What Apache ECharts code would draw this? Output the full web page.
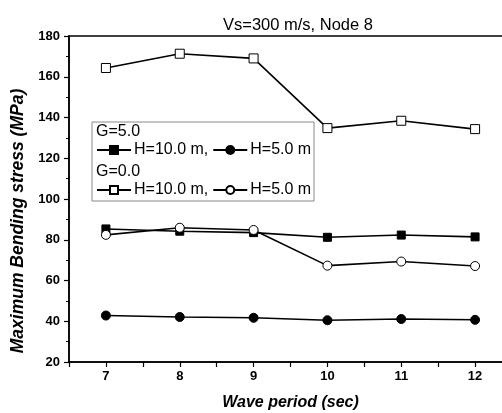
<!DOCTYPE html>
<html>
<head>
<meta charset="utf-8">
<script src="https://cdn.jsdelivr.net/npm/echarts@6/dist/echarts.min.js"></script>
<style>
  html, body { margin: 0; padding: 0; background: #fff; }
  #main { width: 502px; height: 413px; }
</style>
</head>
<body>
<div id="main"></div>
<script>
// wave period (sec)
var periods = [7, 8, 9, 10, 11, 12];
// maximum bending stress (MPa)
var g5H10 = [85.3, 84.2, 83.5, 81.2, 82.3, 81.4];
var g5H5 = [42.8, 42.1, 41.7, 40.5, 41.1, 40.7];
var g0H10 = [164.3, 171.3, 169.0, 134.8, 138.4, 134.3];
var g0H5 = [82.4, 85.9, 84.8, 67.3, 69.3, 67.1];
var yTicks = [20, 40, 60, 80, 100, 120, 140, 160, 180];

var labels = {
  g5H10: 'H=10.0 m,',
  g5H5: 'H=5.0 m',
  g0H10: 'H=10.0 m,',
  g0H5: 'H=5.0 m'
};

function pairs(ys) {
  return periods.map(function (x, i) { return [x, ys[i]]; });
}

var chartDom = document.getElementById('main');
var myChart = echarts.init(chartDom, null, { renderer: 'canvas' });
var font = 'Liberation Sans, Arial, sans-serif';

function lineSeries(name, ys, symbol, size, filled) {
  return {
    name: name,
    type: 'line',
    data: pairs(ys),
    symbol: symbol,
    symbolSize: size,
    lineStyle: { color: '#000', width: 1.6 },
    itemStyle: {
      color: filled ? '#000' : '#fff',
      borderColor: '#000',
      borderWidth: 1
    },
    emphasis: { disabled: true },
    animation: false
  };
}

var legendCommon = {
  orient: 'horizontal',
  itemWidth: 34,
  itemHeight: 10,
  itemGap: 4,
  padding: 0,
  selectedMode: false,
  textStyle: { fontFamily: font, fontSize: 16, color: '#000', padding: [0, 0, 0, -2] },
  formatter: function (n) { return labels[n]; }
};

var option = {
  backgroundColor: '#fff',
  textStyle: { fontFamily: font },
  title: {
    text: 'Vs=300 m/s, Node 8',
    left: 293,
    top: 12,
    textAlign: 'center',
    textStyle: { fontFamily: font, fontSize: 16.5, fontWeight: 'normal', color: '#000' }
  },
  grid: {
    left: 69,
    top: 36,
    width: 443,
    bottom: 51,
    outerBoundsMode: 'none',
    containLabel: false,
    show: true,
    borderColor: '#000',
    borderWidth: 1.5,
    backgroundColor: 'transparent'
  },
  legend: [
    Object.assign({ data: ['g5H10', 'g5H5'], left: 96, top: 142 }, legendCommon),
    Object.assign({ data: ['g0H10', 'g0H5'], left: 96, top: 182 }, legendCommon)
  ],
  graphic: [
    {
      type: 'rect',
      shape: { x: 92, y: 122, width: 222, height: 79 },
      style: { fill: '#fff', stroke: '#888', lineWidth: 1 },
      z: 1
    },
    {
      type: 'text',
      left: 96, top: 124,
      style: { text: 'G=5.0', fontFamily: font, fontSize: 16, fill: '#000' },
      z: 2
    },
    {
      type: 'text',
      left: 96, top: 164,
      style: { text: 'G=0.0', fontFamily: font, fontSize: 16, fill: '#000' },
      z: 2
    }
  ],
  xAxis: {
    type: 'value',
    min: 6.5,
    max: 12.5,
    interval: 0.5,
    name: 'Wave period (sec)',
    nameLocation: 'middle',
    nameGap: 33,
    nameTextStyle: { fontFamily: font, fontSize: 16, fontWeight: 'bold', fontStyle: 'italic', color: '#000' },
    axisLine: { onZero: false, lineStyle: { color: '#000', width: 1.5 } },
    axisTick: { inside: false, length: 5, lineStyle: { color: '#000', width: 1.2 } },
    axisLabel: {
      color: '#000',
      fontFamily: font,
      fontSize: 13,
      fontWeight: 'bold',
      margin: 8,
      formatter: function (v) { return Number.isInteger(v) ? String(v) : ''; }
    },
    splitLine: { show: false }
  },
  yAxis: {
    type: 'value',
    min: yTicks[0],
    max: yTicks[yTicks.length - 1],
    interval: 20,
    name: 'Maximum Bending stress (MPa)',
    nameLocation: 'middle',
    nameGap: 32,
    nameTextStyle: {
      fontFamily: font, fontSize: 17.5, fontWeight: 'bold', fontStyle: 'italic', color: '#000',
      padding: [0, 44, 0, 0]
    },
    axisLine: { show: true, lineStyle: { color: '#000', width: 1.5 } },
    axisTick: { inside: false, length: 5, lineStyle: { color: '#000', width: 1.2 } },
    minorTick: { show: true, splitNumber: 2, length: 3, lineStyle: { color: '#000', width: 1 } },
    axisLabel: { color: '#000', fontFamily: font, fontSize: 13, fontWeight: 'bold', margin: 9 },
    splitLine: { show: false }
  },
  series: [
    lineSeries('g5H5', g5H5, 'circle', 9, true),
    lineSeries('g5H10', g5H10, 'rect', 8, true),
    lineSeries('g0H5', g0H5, 'circle', 9, false),
    lineSeries('g0H10', g0H10, 'rect', 9, false)
  ]
};

option && myChart.setOption(option);
</script>
</body>
</html>
